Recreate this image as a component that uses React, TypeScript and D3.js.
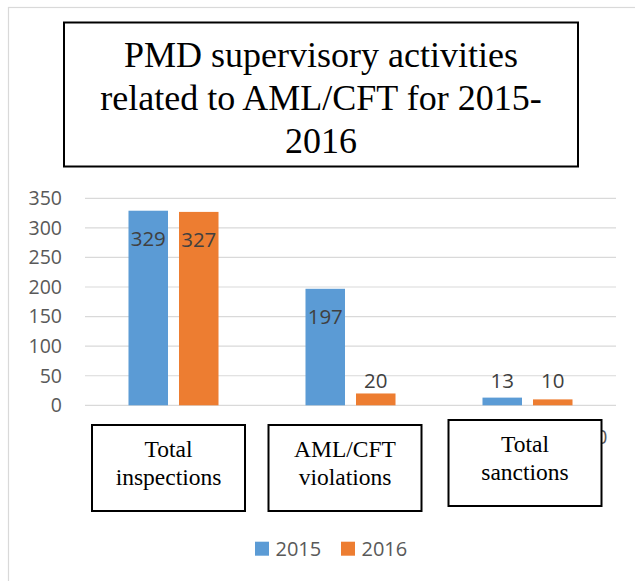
import React from 'react';
import * as d3 from 'd3';

// chart values
const categories = ['Total inspections', 'AML/CFT violations', 'Total sanctions'];
const categoryLines = [['Total', 'inspections'], ['AML/CFT', 'violations'], ['Total', 'sanctions']];
const seriesNames = ['2015', '2016'];
const values2015 = [329, 197, 13];
const values2016 = [327, 20, 10];
const yTicks = [0, 50, 100, 150, 200, 250, 300, 350];
const titleLines = ['PMD supervisory activities', 'related to AML/CFT for 2015-', '2016'];

const colors = ['#5B9BD5', '#ED7D31'];
const sans = '"Open Sans", sans-serif';
const serif = '"Liberation Serif", "Times New Roman", serif';

// hand-placed text boxes (pasted over the chart in the original)
const boxDx = [-5, -5.5, -2.5];
const boxDy = [0, 0, -5];

export default function App() {
  const W = 635, H = 581;
  const plot = { left: 85, right: 616, top: 198.3, bottom: 405.3 };

  const x0 = d3.scaleBand<string>().domain(categories).range([plot.left, plot.right]).padding(0);
  const x1 = d3.scaleBand<string>().domain(seriesNames).range([0, x0.bandwidth()])
    .paddingInner(0.218).paddingOuter(0.861);
  const y = d3.scaleLinear().domain([0, 350]).range([plot.bottom, plot.top]);

  const seriesValues = [values2015, values2016];

  return (
    <div style={{ position: 'absolute', left: 0, top: 0 }}>
      <svg width={W} height={H} style={{ display: 'block', background: '#fff' }}>
        <rect x={8.5} y={7.5} width={640} height={600} fill="#fff" stroke="#d9d9d9" strokeWidth={1.2} />

        {/* title box */}
        <rect x={64} y={22.5} width={514} height={144} fill="#fff" stroke="#000" strokeWidth={2} />
        {titleLines.map((t, i) => (
          <text key={t} x={321} y={66.5 + i * 43.3} textAnchor="middle" fontFamily={serif}
            fontSize={36} fill="#000">{t}</text>
        ))}

        {/* gridlines + y ticks */}
        {yTicks.map(t => (
          <g key={t}>
            <line x1={plot.left} x2={plot.right} y1={y(t)} y2={y(t)} stroke="#d9d9d9" strokeWidth={1.2} />
            <text x={62} y={y(t)} dy="0.35em" textAnchor="end" fontFamily={sans} fontSize={19.5}
              fill="#595959">{t}</text>
          </g>
        ))}

        {/* bars */}
        {categories.map((c, ci) => (
          <g key={c} transform={`translate(${x0(c)},0)`}>
            {seriesNames.map((s, si) => {
              const v = seriesValues[si][ci];
              const bx = x1(s)!;
              const ly = Math.min(y(v) + 28, y(0) - 25);
              return (
                <g key={s}>
                  <rect x={bx} y={y(v)} width={x1.bandwidth()} height={y(0) - y(v)} fill={colors[si]} />
                  <text x={bx + x1.bandwidth() / 2} y={ly} dy="0.36em" textAnchor="middle"
                    fontFamily={sans} fontSize={20.5} fill="#404040">{v}</text>
                </g>
              );
            })}
          </g>
        ))}

        {/* stub of the original axis label peeking out from behind the last box */}
        <text x={596} y={444} fontFamily={sans} fontSize={20} fill="#595959">0</text>

        {/* category label boxes */}
        {categories.map((c, ci) => {
          const cx = x0(c)! + x0.bandwidth() / 2 + boxDx[ci];
          const top = 425 + boxDy[ci];
          return (
            <g key={c}>
              <rect x={cx - 76.5} y={top} width={153} height={86} fill="#fff" stroke="#000" strokeWidth={2} />
              {categoryLines[ci].map((l, li) => (
                <text key={l} x={cx} y={top + 32 + li * 28} textAnchor="middle" fontFamily={serif}
                  fontSize={23.5} fill="#000">{l}</text>
              ))}
            </g>
          );
        })}

        {/* legend */}
        {seriesNames.map((s, si) => (
          <g key={s} transform={`translate(${255 + si * 86},541.7)`}>
            <rect width={14} height={14} fill={colors[si]} />
            <text x={20.5} y={7} dy="0.36em" fontFamily={sans} fontSize={20} fill="#595959">{s}</text>
          </g>
        ))}
      </svg>
    </div>
  );
}
